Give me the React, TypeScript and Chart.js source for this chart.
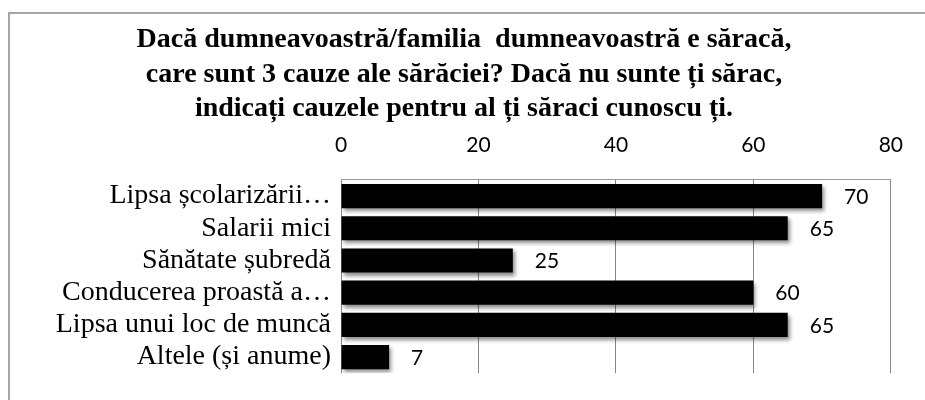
import React, { useEffect, useRef } from "react";
import { Chart, registerables } from "chart.js";

Chart.register(...registerables);

const titleLines = [
  "Dacă dumneavoastră/familia  dumneavoastră e săracă,",
  "care sunt 3 cauze ale sărăciei? Dacă nu sunte ți sărac,",
  "indicați cauzele pentru al ți săraci cunoscu ți.",
];
const categories = [
  "Lipsa școlarizării…",
  "Salarii mici",
  "Sănătate șubredă",
  "Conducerea proastă a…",
  "Lipsa unui loc de muncă",
  "Altele (și anume)",
];
const values = [70, 65, 25, 60, 65, 7];
const axisMin = 0;
const axisMax = 80;
const axisStep = 20;

const barDecor = {
  id: "barDecor",
  beforeDatasetsDraw(chart: any) {
    const ctx = chart.ctx;
    ctx.save();
    ctx.shadowColor = "rgba(0,0,0,0.45)";
    ctx.shadowBlur = 4;
    ctx.shadowOffsetX = 2;
    ctx.shadowOffsetY = 3;
  },
  afterDatasetsDraw(chart: any) {
    const ctx = chart.ctx;
    ctx.restore();
    ctx.save();
    ctx.fillStyle = "#000";
    ctx.font = "21px Lato";
    ctx.textAlign = "left";
    ctx.textBaseline = "middle";
    const meta = chart.getDatasetMeta(0);
    meta.data.forEach((bar: any, i: number) => {
      const v = chart.data.datasets[0].data[i];
      ctx.fillText(String(v), bar.x + 22, bar.y + 1);
    });
    ctx.restore();
  },
};

export default function App() {
  const ref = useRef<HTMLCanvasElement>(null);
  useEffect(() => {
    if (!ref.current) return;
    const chart = new Chart(ref.current, {
      type: "bar",
      data: {
        labels: categories,
        datasets: [
          {
            data: values,
            backgroundColor: "#000",
            borderWidth: 0,
            barPercentage: 0.75,
            categoryPercentage: 1,
          },
        ],
      },
      options: {
        indexAxis: "y",
        responsive: false,
        animation: false,
        devicePixelRatio: 1,
        layout: { padding: { left: 36, right: 33, top: 0, bottom: 19 } },
        plugins: {
          legend: { display: false },
          tooltip: { enabled: false },
          title: {
            display: true,
            text: titleLines,
            color: "#000",
            font: { family: "'Liberation Serif'", size: 28, weight: "bold", lineHeight: 1.232 },
            padding: { top: 23, bottom: 0 },
          },
        },
        scales: {
          x: {
            position: "top",
            min: axisMin,
            max: axisMax,
            ticks: {
              stepSize: axisStep,
              color: "#000",
              font: { family: "Lato", size: 21 },
              padding: 22,
            },
            grid: { color: "#868686", lineWidth: 1, drawTicks: false },
            border: { display: true, color: "#9a9a9a", width: 1 },
            afterFit: (s: any) => {
              s.height = 53.5;
            },
          },
          y: {
            ticks: {
              color: "#000",
              font: { family: "'Liberation Serif'", size: 28 },
              padding: 10,
              autoSkip: false,
            },
            grid: { display: false, drawTicks: false },
            border: { display: false },
            afterFit: (s: any) => {
              s.width = 305;
            },
          },
        },
      },
      plugins: [barDecor],
    });
    return () => chart.destroy();
  }, []);

  return (
    <div style={{ position: "absolute", left: 0, top: 0, width: 925, height: 400, overflow: "hidden", background: "#fff" }}>
      <div
        style={{
          position: "absolute",
          left: 8,
          top: 12,
          width: 940,
          height: 420,
          borderTop: "2px solid #a6a6a6",
          borderLeft: "2px solid #a6a6a6",
        }}
      />
      <canvas ref={ref} width={925} height={400} style={{ position: "absolute", left: 0, top: 0 }} />
    </div>
  );
}
